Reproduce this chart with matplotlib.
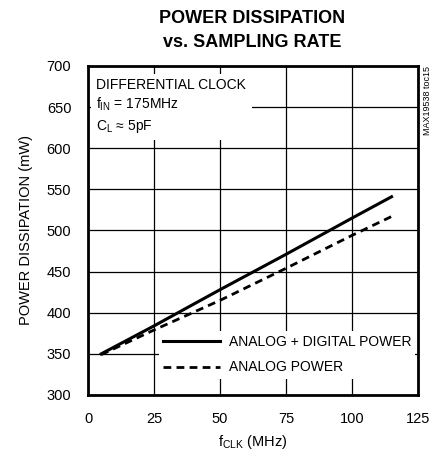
import matplotlib
matplotlib.use("Agg")
import matplotlib.pyplot as plt

# values
f_clk = [5, 25, 50, 75, 100, 115]
p_total = [350, 384, 428, 471, 515, 541]
p_analog = [349, 379, 415, 454, 494, 517]

x_ticks = [0, 25, 50, 75, 100, 125]
y_ticks = [300, 350, 400, 450, 500, 550, 600, 650, 700]

plt.rcParams['font.family'] = ['Liberation Sans', 'DejaVu Sans']
plt.rcParams['mathtext.default'] = 'regular'

fig = plt.figure(figsize=(4.39, 4.57), dpi=100)
ax = fig.add_axes([0.2005, 0.1357, 0.7515, 0.7199])

ax.plot(f_clk, p_total, color='black', lw=2.2, label='ANALOG + DIGITAL POWER')
ax.plot(f_clk, p_analog, color='black', lw=2.0, ls=(0, (2.8, 1.9)), label='ANALOG POWER')

ax.set_xlim(0, 125)
ax.set_ylim(300, 700)
ax.set_xticks(x_ticks)
ax.set_yticks(y_ticks)
ax.tick_params(length=0, labelsize=10.5, pad=12)
ax.grid(True, color='black', lw=0.9)
for s in ax.spines.values():
    s.set_linewidth(2)

ax.set_xlabel('f$_{CLK}$ (MHz)', fontsize=10.5, labelpad=5)
ax.set_ylabel('POWER DISSIPATION (mW)', fontsize=10.5, labelpad=10)

fig.suptitle('POWER DISSIPATION\nvs. SAMPLING RATE', x=0.575, y=0.978,
             fontsize=13, fontweight='bold', linespacing=1.5)

ax.text(0.025, 0.965, 'DIFFERENTIAL CLOCK\nf$_{IN}$ = 175MHz\nC$_{L}$ \u2248 5pF',
        transform=ax.transAxes, va='top', ha='left', fontsize=10, linespacing=1.35,
        bbox=dict(facecolor='white', edgecolor='none', pad=4), zorder=5)

leg = ax.legend(loc='lower right', bbox_to_anchor=(0.992, 0.05), borderaxespad=0,
                fontsize=10, handlelength=4.1, handletextpad=0.6, labelspacing=0.8,
                frameon=True, fancybox=False, borderpad=0.3)
leg.get_frame().set_edgecolor('none')
leg.get_frame().set_alpha(1)

fig.text(0.974, 0.855, 'MAX19538 toc15', rotation=90, fontsize=6.5,
         va='top', ha='center')

fig.savefig('out.png', dpi=100)
